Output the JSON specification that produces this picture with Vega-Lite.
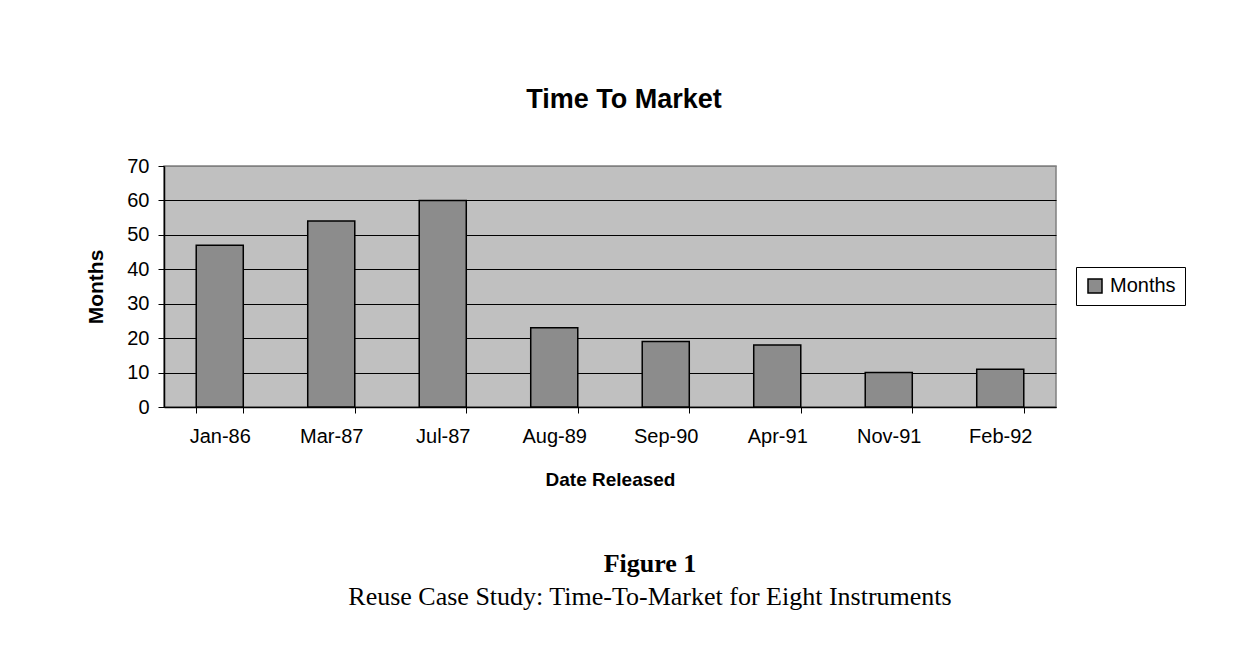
{
  "$schema": "https://vega.github.io/schema/vega-lite/v6.json",
  "background": "white",
  "autosize": {"type": "pad"},
  "padding": {"left": 85, "top": 85, "right": 0, "bottom": 0},
  "title": {
    "text": "Figure 1",
    "subtitle": "Reuse Case Study: Time-To-Market for Eight Instruments",
    "orient": "bottom",
    "anchor": "middle",
    "frame": "group",
    "font": "Liberation Serif",
    "fontSize": 26,
    "fontWeight": "bold",
    "color": "black",
    "subtitleFont": "Liberation Serif",
    "subtitleFontSize": 26,
    "subtitleFontWeight": "normal",
    "subtitleColor": "black",
    "subtitlePadding": 7,
    "offset": 61,
    "dx": 40
  },
  "config": {
    "font": "Liberation Sans",
    "view": {"fill": "#c0c0c0", "stroke": "#808080", "strokeWidth": 1.5}
  },
  "vconcat": [
    {
      "width": 892,
      "height": 241,
      "title": {
        "text": "Time To Market",
        "font": "Liberation Sans",
        "fontSize": 27,
        "fontWeight": "bold",
        "color": "black",
        "anchor": "middle",
        "frame": "group",
        "dx": 14,
        "offset": 42
      },
      "data": {
        "values": [
          {"date": "Jan-86", "months": 47},
          {"date": "Mar-87", "months": 54},
          {"date": "Jul-87", "months": 60},
          {"date": "Aug-89", "months": 23},
          {"date": "Sep-90", "months": 19},
          {"date": "Apr-91", "months": 18},
          {"date": "Nov-91", "months": 10},
          {"date": "Feb-92", "months": 11}
        ]
      },
      "mark": {"type": "bar", "stroke": "black", "strokeWidth": 1.5},
      "encoding": {
        "x": {
          "field": "date",
          "type": "nominal",
          "sort": null,
          "scale": {"paddingInner": 0.578, "paddingOuter": 0.289},
          "axis": {
            "title": "Date Released",
            "titleFont": "Liberation Sans",
            "titleFontSize": 19,
            "titleFontWeight": "bold",
            "titleColor": "black",
            "titlePadding": 24,
            "labelFont": "Liberation Sans",
            "labelFontSize": 20,
            "labelColor": "black",
            "labelAngle": 0,
            "labelPadding": 13,
            "tickBand": "extent",
            "tickSize": 6,
            "tickColor": "black",
            "domainColor": "black",
            "domainWidth": 1.5,
            "grid": false
          }
        },
        "y": {
          "field": "months",
          "type": "quantitative",
          "scale": {"domain": [0, 70], "nice": false},
          "axis": {
            "title": "Months",
            "titleFont": "Liberation Sans",
            "titleFontSize": 21,
            "titleFontWeight": "bold",
            "titleColor": "black",
            "titlePadding": 20,
            "values": [0, 10, 20, 30, 40, 50, 60, 70],
            "labelFont": "Liberation Sans",
            "labelFontSize": 20,
            "labelColor": "black",
            "labelPadding": 9,
            "tickSize": 6,
            "tickColor": "black",
            "domainColor": "black",
            "domainWidth": 1.5,
            "grid": true,
            "gridColor": {"condition": {"test": "datum.value == 70", "value": "#808080"}, "value": "black"},
            "gridWidth": 1.2
          }
        },
        "color": {
          "datum": "Months",
          "type": "nominal",
          "scale": {"range": ["#8c8c8c"]},
          "legend": {
            "title": null,
            "orient": "none",
            "legendX": 912,
            "legendY": 101,
            "strokeColor": "black",
            "padding": 9,
            "symbolType": "square",
            "symbolSize": 196,
            "symbolStrokeColor": "black",
            "symbolStrokeWidth": 1.5,
            "labelFont": "Liberation Sans",
            "labelFontSize": 20,
            "labelColor": "black",
            "labelOffset": 5
          }
        }
      }
    }
  ]
}
